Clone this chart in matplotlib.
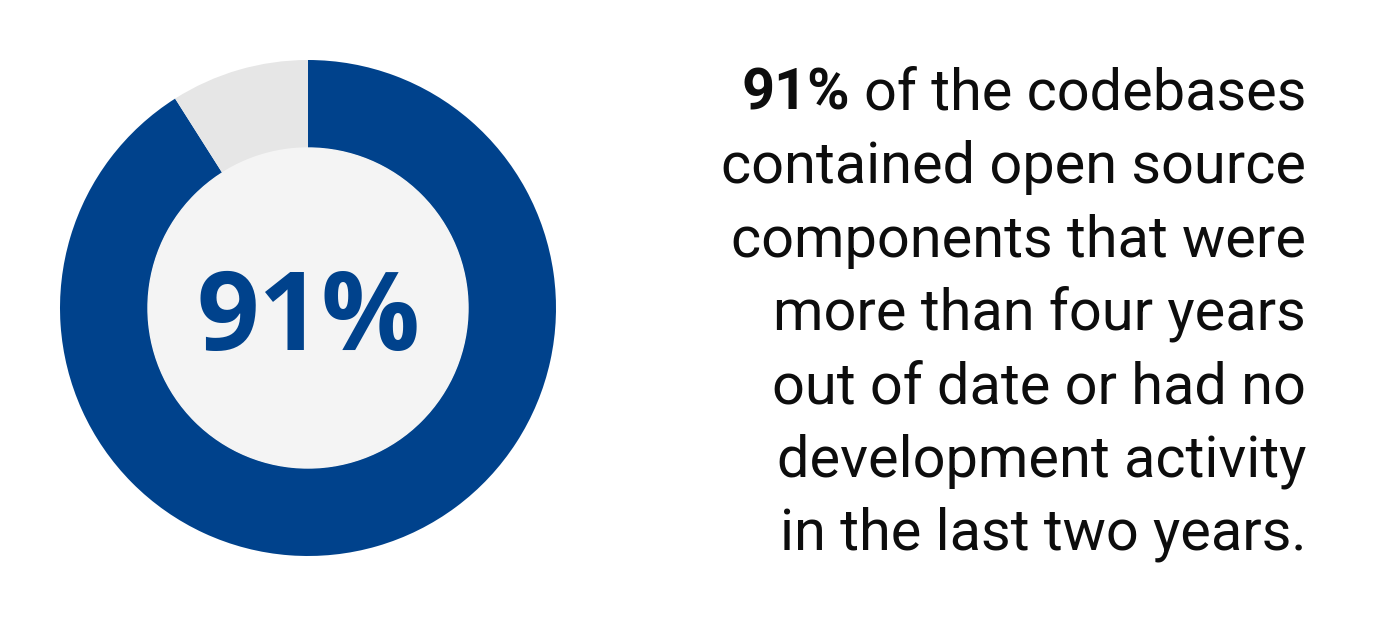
import matplotlib.pyplot as plt
from matplotlib.patches import Circle

# data
share = [91, 9]
big_label = '91%'
lead_bold = '91%'
text_lines = [
    'of the codebases',
    'contained open source',
    'components that were',
    'more than four years',
    'out of date or had no',
    'development activity',
    'in the last two years.',
]

BLUE = '#00428c'
GREY = '#e6e6e6'
INNER = '#f4f4f4'

fig = plt.figure(figsize=(14, 6.17), dpi=100)
fig.patch.set_facecolor('white')

# axes in pixel coordinates (y measured from bottom)
ax = fig.add_axes([0, 0, 1, 1])
cx, cy = 308, 617 - 308
ax.pie(share, colors=[BLUE, GREY], startangle=90, counterclock=False,
       radius=248, center=(cx, cy), frame=True,
       wedgeprops=dict(width=88, linewidth=0))
ax.set_xlim(0, 1400)
ax.set_ylim(0, 617)
ax.set_aspect('equal')
ax.axis('off')
ax.add_patch(Circle((cx, cy), 160, color=INNER, zorder=3))
ax.text(cx + 1, 617 - 350, big_label, ha='center', va='baseline', fontsize=79,
        fontweight='bold', family='Open Sans', color=BLUE, zorder=4)

# right-hand description
fs = 41.5
right = 1306
base0 = 617 - 110
step = 73.3
fig.canvas.draw()
renderer = fig.canvas.get_renderer()
for i, line in enumerate(text_lines):
    y = base0 - i * step
    t = ax.text(right, y, line, ha='right', va='baseline', fontsize=fs,
                family='Roboto', color='#0d0d0d')
    if i == 0:
        bb = t.get_window_extent(renderer=renderer)
        x0 = ax.transData.inverted().transform((bb.x0, bb.y0))[0]
        ax.text(x0 - 14, y, lead_bold, ha='right', va='baseline', fontsize=fs,
                family='Roboto', fontweight='bold', color='#0d0d0d')

fig.savefig('out.png', dpi=100, facecolor='white')
